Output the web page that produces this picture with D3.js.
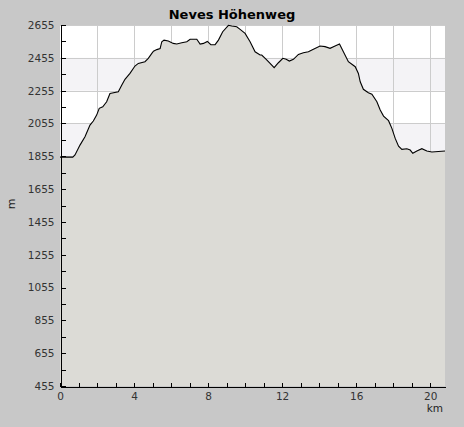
<!DOCTYPE html>
<html>
<head>
<meta charset="utf-8">
<script src="https://cdn.jsdelivr.net/npm/d3@7/dist/d3.min.js"></script>
<style>
  html, body { margin: 0; padding: 0; background: #c8c8c8; }
  svg { display: block; }
  text { font-family: "DejaVu Sans", sans-serif; }
</style>
</head>
<body>
<svg id="chart" width="464" height="427"></svg>
<script>
// Distance along the route (km)
const distanceKm = [0, 0.69, 0.81, 1.08, 1.35, 1.62, 1.80, 1.98, 2.12, 2.31, 2.52, 2.70, 3.15, 3.34, 3.51, 3.78, 4.05, 4.23, 4.59, 4.77, 4.96, 5.05, 5.23, 5.41, 5.50, 5.62, 5.85, 6.12, 6.31, 6.58, 6.85, 7.03, 7.39, 7.57, 7.75, 7.96, 8.15, 8.38, 8.56, 8.79, 9.10, 9.28, 9.55, 9.73, 10.00, 10.27, 10.54, 10.81, 10.90, 11.14, 11.35, 11.57, 11.80, 12.04, 12.22, 12.39, 12.61, 12.88, 13.15, 13.42, 13.69, 14.05, 14.32, 14.59, 14.86, 15.10, 15.31, 15.58, 15.95, 16.12, 16.22, 16.39, 16.66, 16.85, 17.12, 17.30, 17.48, 17.75, 17.93, 18.11, 18.29, 18.47, 18.74, 18.92, 19.06, 19.28, 19.55, 19.82, 20.09, 20.80];
// Elevation (m)
const elevationM = [1850, 1850, 1863, 1923, 1974, 2045, 2070, 2106, 2147, 2157, 2187, 2238, 2248, 2289, 2324, 2360, 2405, 2421, 2431, 2452, 2482, 2495, 2505, 2512, 2553, 2563, 2557, 2543, 2539, 2547, 2553, 2568, 2568, 2539, 2543, 2555, 2535, 2535, 2563, 2614, 2653, 2649, 2644, 2628, 2604, 2553, 2492, 2472, 2472, 2446, 2421, 2395, 2425, 2452, 2446, 2435, 2446, 2476, 2486, 2492, 2507, 2527, 2523, 2513, 2527, 2539, 2492, 2431, 2401, 2360, 2309, 2263, 2242, 2233, 2187, 2137, 2100, 2072, 2025, 1964, 1917, 1897, 1901, 1893, 1873, 1887, 1901, 1887, 1881, 1887];

const yTickValues = d3.range(455, 2656, 100);
const yLabelValues = d3.range(455, 2656, 200);
const xTickValues = d3.range(0, 21, 1);
const xLabelValues = [0, 4, 8, 12, 16, 20];
const xGridValues = d3.range(2, 21, 2);
const title = "Neves Höhenweg";
const xUnit = "km";
const yUnit = "m";

const svg = d3.select("#chart");
const pLeft = 60, pRight = 445, pTop = 25, pBottom = 386;

const x = d3.scaleLinear().domain([0, 20.8]).range([pLeft, pRight]);
const y = d3.scaleLinear().domain([455, 2655]).range([pBottom, pTop]);

// plot background
svg.append("rect").attr("x", pLeft).attr("y", pTop)
  .attr("width", pRight - pLeft).attr("height", pBottom - pTop).attr("fill", "#ffffff");

// alternating bands
svg.append("g").selectAll("rect")
  .data(yLabelValues.slice(1).filter(v => ((2455 - v) / 200) % 2 === 0))
  .join("rect")
  .attr("x", pLeft).attr("width", pRight - pLeft)
  .attr("y", d => y(d)).attr("height", d => y(d - 200) - y(d))
  .attr("fill", "#f4f3f6");

// grid
const grid = svg.append("g").attr("stroke", "#cccccc").attr("shape-rendering", "crispEdges");
grid.selectAll("line.v").data(xGridValues).join("line").attr("class", "v")
  .attr("x1", d => Math.round(x(d)) + 0.5).attr("x2", d => Math.round(x(d)) + 0.5)
  .attr("y1", pTop).attr("y2", pBottom);
grid.selectAll("line.h").data(yLabelValues.slice(1)).join("line").attr("class", "h")
  .attr("x1", pLeft).attr("x2", pRight)
  .attr("y1", d => Math.round(y(d)) + 0.5).attr("y2", d => Math.round(y(d)) + 0.5);

// area + line
const area = d3.area().x((d, i) => x(distanceKm[i])).y0(y(455)).y1(d => y(d));
const line = d3.line().x((d, i) => x(distanceKm[i])).y(d => y(d));
svg.append("path").datum(elevationM).attr("d", area).attr("fill", "#dcdbd6");
svg.append("path").datum(elevationM).attr("d", line).attr("fill", "none")
  .attr("stroke", "#000").attr("stroke-width", 1.1);

// axes
const yAxis = d3.axisLeft(y).tickValues(yTickValues).tickSizeInner(-5).tickSizeOuter(0).tickPadding(6)
  .tickFormat(d => yLabelValues.includes(d) ? String(d) : "");
const gy = svg.append("g").attr("transform", `translate(${pLeft + 0.5},0)`).call(yAxis);
const xAxis = d3.axisBottom(x).tickValues(xTickValues).tickSizeInner(-4).tickSizeOuter(0).tickPadding(6)
  .tickFormat(d => xLabelValues.includes(d) ? String(d) : "");
const gx = svg.append("g").attr("transform", `translate(0,${pBottom + 0.5})`).call(xAxis);
[gx, gy].forEach(g => {
  g.selectAll("path, line").attr("stroke", "#000").attr("shape-rendering", "crispEdges");
  g.selectAll("text").attr("fill", "#333").style("font-size", "10.5px").style("font-family", "DejaVu Sans, sans-serif");
});

// title and units
svg.append("text").attr("x", 232).attr("y", 19).attr("text-anchor", "middle")
  .style("font-size", "13px").style("font-weight", "bold").attr("fill", "#000").text(title);
svg.append("text").attr("x", 443).attr("y", 412).attr("text-anchor", "end")
  .style("font-size", "10.5px").attr("fill", "#222").text(xUnit);
svg.append("text").attr("transform", "translate(15,204) rotate(-90)").attr("text-anchor", "middle")
  .style("font-size", "11px").attr("fill", "#222").text(yUnit);
</script>
</body>
</html>
